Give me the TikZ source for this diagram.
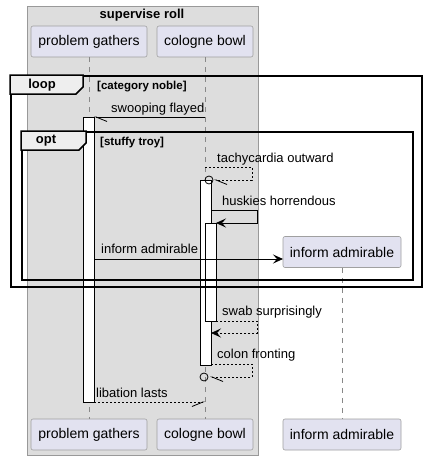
\documentclass[tikz,border=0pt]{standalone}
\usepackage{fontspec}
\setmainfont{Liberation Sans}
\usetikzlibrary{arrows.meta}
\definecolor{boxgray}{HTML}{DDDDDD}
\definecolor{boxline}{HTML}{999999}
\definecolor{partfill}{HTML}{E2E2F0}
\definecolor{partline}{HTML}{A0A0A0}
\definecolor{tabfill}{HTML}{EEEEEE}
\definecolor{lifegray}{HTML}{888888}
\tikzset{
  part/.style={draw=partline, fill=partfill, rounded corners=2pt, line width=0.6pt, minimum height=31pt, inner sep=0pt, font=\fontsize{14}{16}\selectfont},
  msg/.style={anchor=base west, inner sep=0pt, font=\fontsize{13}{15}\selectfont},
  lifeline/.style={draw=lifegray, line width=0.6pt, dash pattern=on 5pt off 5pt},
  actbar/.style={draw=black, fill=white, line width=0.8pt},
  frameline/.style={draw=black, line width=1.5pt},
  framelabel/.style={inner sep=0pt, font=\bfseries\fontsize{13}{15}\selectfont},
  condlabel/.style={anchor=base west, inner sep=0pt, font=\bfseries\fontsize{11.5}{13}\selectfont},
  solidmsg/.style={draw=black, line width=0.8pt},
  dashmsg/.style={draw=black, line width=0.8pt, dash pattern=on 2pt off 2pt},
  fullhead/.style={-{Stealth[length=10pt, width=9pt, inset=4pt]}},
  tickL/.style={-{Straight Barb[left, length=11pt, width=9pt]}},
  tickR/.style={-{Straight Barb[right, length=11pt, width=9pt]}},
}
\begin{document}
\begin{tikzpicture}[x=1pt, y=-1pt]
\useasboundingbox (0,0) rectangle (426,460);
\fill[white] (0,0) rectangle (426,460);
% group box
\node[draw=boxline, fill=boxgray, line width=0.7pt, minimum width=231pt, minimum height=449pt, inner sep=0pt, anchor=north west] (grp) at (27,6) {};
\node[framelabel] (grptitle) at (142,15) {supervise roll};
% participants top
\node[part, minimum width=116pt] (pgT) at (89,41.5) {problem gathers};
\node[part, minimum width=96pt] (cbT) at (205,41.5) {cologne bowl};
% participants bottom
\node[part, minimum width=116pt] (pgB) at (89,434.5) {problem gathers};
\node[part, minimum width=96pt] (cbB) at (205,434.5) {cologne bowl};
\node[part, minimum width=118pt] (iaB) at (342,434.5) {inform admirable};
% created participant
\node[part, minimum width=118pt] (iaM) at (342,252) {inform admirable};
% lifelines
\draw[lifeline] (pgT.south) -- (pgB.north);
\draw[lifeline] (cbT.south) -- (cbB.north);
\draw[lifeline] (iaM.south) -- (iaB.north);
% activation bars
\node[actbar, anchor=north west, minimum width=11pt, minimum height=285pt, inner sep=0pt] (actPG) at (83,117) {};
\node[actbar, anchor=north west, minimum width=11pt, minimum height=185pt, inner sep=0pt] (actC1) at (200,180) {};
\node[actbar, anchor=north west, minimum width=11pt, minimum height=98pt, inner sep=0pt] (actC2) at (205,223) {};
% frames
\node[frameline, anchor=north west, minimum width=411pt, minimum height=211pt, inner sep=0pt] (loopF) at (10,75) {};
\draw[frameline, fill=tabfill] (loopF.north west) -- (83,75) -- (83,87) -- (76,94) -- (10,94) -- cycle;
\node[framelabel] (loopL) at (42,85) {loop};
\node[condlabel] (loopC) at (97,89) {[category noble]};
\node[frameline, anchor=north west, minimum width=391pt, minimum height=148pt, inner sep=0pt] (optF) at (21,131) {};
\draw[frameline, fill=tabfill] (optF.north west) -- (86,131) -- (86,143) -- (79,150) -- (21,150) -- cycle;
\node[framelabel] (optL) at (46,141) {opt};
\node[condlabel] (optC) at (100,145) {[stuffy troy]};
% coordinates
\coordinate (m1s) at (205,117);
\coordinate (m1e) at (94,117);
\coordinate (m2s) at (205,167);
\coordinate (m2a) at (252,167);
\coordinate (m2b) at (252,180);
\node[draw=black, line width=0.8pt, circle, minimum size=8pt, inner sep=0pt] (circ1) at (209,180) {};
\coordinate (m2e) at (214,180);
\coordinate (m3s) at (211,210);
\coordinate (m3a) at (257,210);
\coordinate (m3b) at (257,223);
\coordinate (m3e) at (216,223);
\coordinate (m4s) at (94,259);
\coordinate (m4e) at (283,259);
\coordinate (m5s) at (216,321);
\coordinate (m5a) at (257,321);
\coordinate (m5b) at (257,333);
\coordinate (m5e) at (211,333);
\coordinate (m6s) at (211,364);
\coordinate (m6a) at (252,364);
\coordinate (m6b) at (252,377);
\node[draw=black, line width=0.8pt, circle, minimum size=8pt, inner sep=0pt] (circ2) at (204,377) {};
\coordinate (m6e) at (210,377);
\coordinate (m7s) at (94,402);
\coordinate (m7e) at (205,402);
% messages
\draw[solidmsg, tickL] (m1s) -- (m1e);
\node[msg] (l1) at (111,112) {swooping flayed};
\draw[dashmsg, tickL] (m2s) -- (m2a) -- (m2b) -- (m2e);
\node[msg] (l2) at (217,162) {tachycardia outward};
\draw[solidmsg, fullhead] (m3s) -- (m3a) -- (m3b) -- (m3e);
\node[msg] (l3) at (222,205.5) {huskies horrendous};
\draw[solidmsg, fullhead] (m4s) -- (m4e);
\node[msg] (l4) at (101,253.5) {inform admirable};
\draw[dashmsg, fullhead] (m5s) -- (m5a) -- (m5b) -- (m5e);
\node[msg] (l5) at (222,315.5) {swab surprisingly};
\draw[dashmsg, tickL] (m6s) -- (m6a) -- (m6b) -- (m6e);
\node[msg] (l6) at (217,358) {colon fronting};
\draw[dashmsg, tickR] (m7s) -- (m7e);
\node[msg] (l7) at (96,397.5) {libation lasts};
\end{tikzpicture}
\end{document}
